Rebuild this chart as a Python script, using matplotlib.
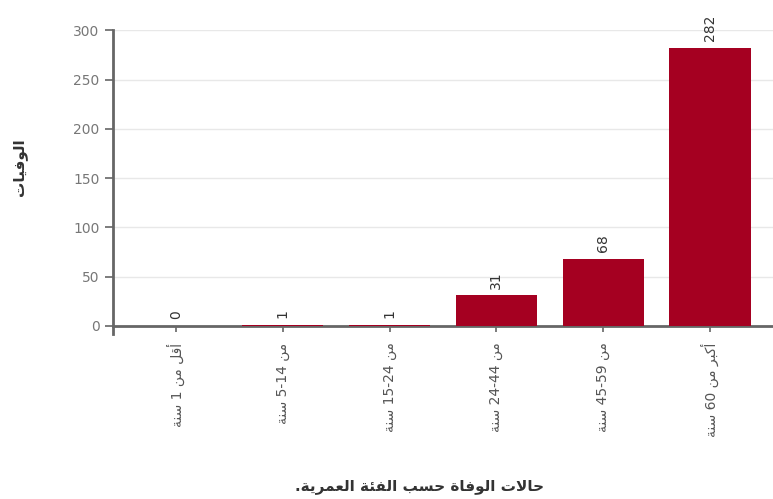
import re
import matplotlib
matplotlib.use('Agg')
import matplotlib.pyplot as plt

categories = ['أقل من 1 سنة', 'من 5-14 سنة', 'من 15-24 سنة',
              'من 24-44 سنة', 'من 45-59 سنة', 'أكبر من 60 سنة']
deaths = [0, 1, 1, 31, 68, 282]
y_ticks = [0, 50, 100, 150, 200, 250, 300]
x_title = 'حالات الوفاة حسب الفئة العمرية.'
y_title = 'الوفيات'

# matplotlib has no arabic shaping, so do a small one by hand
# (letter -> isolated presentation form, number of forms)
FORMS = {
    'ا': (0xFE8D, 2), 'أ': (0xFE83, 2), 'ب': (0xFE8F, 4), 'ة': (0xFE93, 2),
    'ت': (0xFE95, 4), 'ح': (0xFEA1, 4), 'ر': (0xFEAD, 2), 'س': (0xFEB1, 4),
    'ع': (0xFEC9, 4), 'ف': (0xFED1, 4), 'ق': (0xFED5, 4), 'ك': (0xFED9, 4),
    'ل': (0xFEDD, 4), 'م': (0xFEE1, 4), 'ن': (0xFEE5, 4), 'ه': (0xFEE9, 4),
    'و': (0xFEED, 2), 'ي': (0xFEF1, 4), 'ئ': (0xFE89, 4),
}
LAM_ALEF = {'ا': 0xFEFB, 'أ': 0xFEF7}


def shape(text):
    out = []
    i = 0
    while i < len(text):
        ch = text[i]
        if ch not in FORMS:
            out.append(ch)
            i += 1
            continue
        prev = text[i - 1] if i > 0 else ''
        join_prev = prev in FORMS and FORMS[prev][1] == 4
        nxt = text[i + 1] if i + 1 < len(text) else ''
        if ch == 'ل' and nxt in LAM_ALEF:
            out.append(chr(LAM_ALEF[nxt] + (1 if join_prev else 0)))
            i += 2
            continue
        base, n = FORMS[ch]
        join_next = n == 4 and nxt in FORMS
        if join_prev and join_next:
            form = 3
        elif join_next:
            form = 2
        elif join_prev:
            form = 1
        else:
            form = 0
        out.append(chr(base + form))
        i += 1
    return ''.join(out)


def rtl(text):
    runs = re.findall(r'[0-9\-]+|[^0-9\-]+', shape(text))
    runs = [r if re.match(r'[0-9\-]', r) else r[::-1] for r in runs]
    return ''.join(reversed(runs))


plt.rcParams['font.family'] = ['DejaVu Sans']

fig = plt.figure(figsize=(7.73, 4.99), dpi=100)
ax = fig.add_axes([0.146, 0.331, 0.854, 0.608])

x = list(range(len(categories)))
bars = ax.bar(x, deaths, width=0.76, color='#a50021', zorder=3)

for xi, v in zip(x, deaths):
    ax.text(xi, v + 7, str(v), rotation=90, ha='center', va='bottom',
            fontsize=10, color='#333333')

ax.set_xlim(-0.59, 5.59)
ax.set_ylim(-8, 300)
ax.set_yticks(y_ticks)
ax.set_xticks(x)
ax.tick_params(axis='y', labelsize=10, labelcolor='#777777', color='#666666',
               length=6, width=1.2)
ax.tick_params(axis='x', color='#666666', length=4, width=1.2, pad=8,
               labelrotation=90, labelsize=10, labelcolor='#555555')
ax.set_xticklabels([rtl(c) for c in categories])

ax.grid(axis='y', color='#e8e8e8', linewidth=1, zorder=0)
for s in ['top', 'right']:
    ax.spines[s].set_visible(False)
ax.spines['bottom'].set_position(('data', 0))
ax.spines['bottom'].set_color('#666666')
ax.spines['bottom'].set_linewidth(2)
ax.spines['left'].set_color('#666666')
ax.spines['left'].set_linewidth(2)

ax.set_ylabel(rtl(y_title), fontsize=11, fontweight='bold', color='#333333')
ax.yaxis.set_label_coords(-0.13, 0.55)
ax.set_xlabel(rtl(x_title), fontsize=11, fontweight='bold', color='#333333')
ax.xaxis.set_label_coords(0.465, -0.48)

fig.savefig('out.png', dpi=100)
